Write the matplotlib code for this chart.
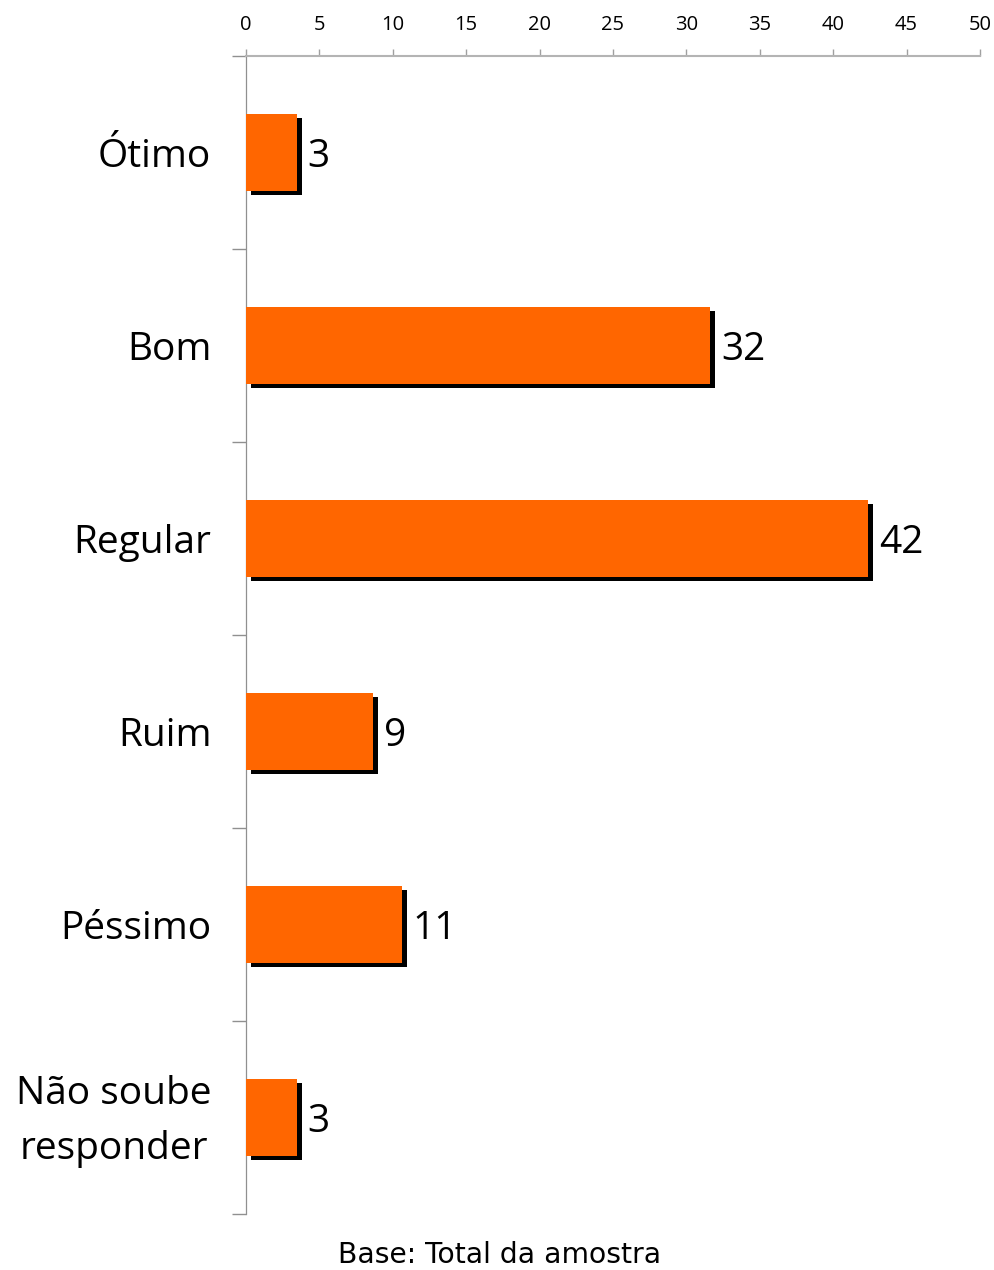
import matplotlib
matplotlib.use("Agg")
import matplotlib.pyplot as plt
import matplotlib.transforms as mtransforms

# data
categories = ["Ótimo", "Bom", "Regular", "Ruim", "Péssimo", "Não soube\nresponder"]
values = [3.45, 31.6, 42.4, 8.65, 10.6, 3.45]
value_labels = ["3", "32", "42", "9", "11", "3"]
x_ticks = list(range(0, 55, 5))

bar_color = "#FF6600"
W, H = 994, 1270

fig = plt.figure(figsize=(W / 100, H / 100), dpi=100)
ax = fig.add_axes([246 / W, 1 - 1214 / H, (980 - 246) / W, (1214 - 56) / H])

y = list(range(len(categories)))

# drop shadow: same bars shifted right/down a few pixels
shadow = mtransforms.offset_copy(ax.transData, fig=fig, x=5, y=-4, units="dots")
ax.barh(y, values, height=0.4, color="black", transform=shadow, zorder=2)
ax.barh(y, values, height=0.4, color=bar_color, zorder=3)

for yi, v, lab in zip(y, values, value_labels):
    ax.annotate(lab, (v, yi), xytext=(8, -3.5), textcoords="offset points",
                ha="left", va="center", fontsize=28, family="Open Sans",
                color="black")

ax.set_xlim(0, 50)
ax.set_ylim(len(categories) - 0.5, -0.5)

ax.xaxis.tick_top()
ax.set_xticks(x_ticks)
ax.tick_params(axis="x", direction="out", length=5, width=1, color="#a0a0a0",
               pad=10, labelsize=14.5)
for t in ax.get_xticklabels():
    t.set_family("Open Sans")

ax.set_yticks(y)
ax.set_yticklabels(categories, fontsize=28, family="Open Sans",
                   multialignment="center", linespacing=1.6)
ax.set_yticks([i - 0.5 for i in range(len(categories) + 1)], minor=True)
ax.tick_params(axis="y", which="major", length=0, pad=25)
ax.tick_params(axis="y", which="minor", direction="out", length=10,
               width=1, color="#909090")

# two-line label sits a bit higher in the original
last = ax.get_yticklabels()[-1]
last.set_transform(last.get_transform()
                   + mtransforms.ScaledTranslation(0, 9 / 100, fig.dpi_scale_trans))

ax.spines["right"].set_visible(False)
ax.spines["bottom"].set_visible(False)
ax.spines["top"].set_color("#b4b4b4")
ax.spines["top"].set_linewidth(1.5)
ax.spines["left"].set_color("#909090")
ax.spines["left"].set_linewidth(0.9)

fig.text(500 / W, 1 - 1255 / H, "Base: Total da amostra", ha="center",
         va="center", fontsize=20.3, family="DejaVu Sans")

fig.savefig("out.png", dpi=100)
